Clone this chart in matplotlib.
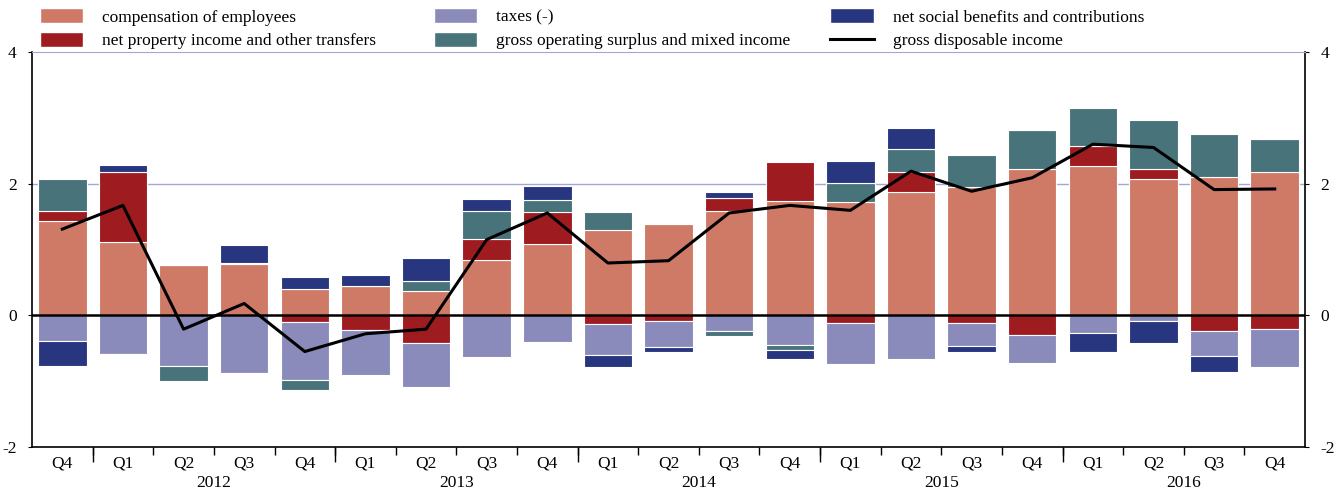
import matplotlib.pyplot as plt
import numpy as np
from matplotlib.patches import Patch
from matplotlib.lines import Line2D

plt.rcParams['font.family'] = ['Liberation Serif', 'DejaVu Serif']
plt.rcParams['font.size'] = 12.5

# quarters 2011Q4 .. 2016Q4
quarters = ['Q4', 'Q1', 'Q2', 'Q3', 'Q4', 'Q1', 'Q2', 'Q3', 'Q4', 'Q1', 'Q2',
            'Q3', 'Q4', 'Q1', 'Q2', 'Q3', 'Q4', 'Q1', 'Q2', 'Q3', 'Q4']
years = ['2012', '2013', '2014', '2015', '2016']

comp = [1.44, 1.12, 0.765, 0.78, 0.40, 0.44, 0.37, 0.835, 1.085, 1.30, 1.38,
        1.585, 1.74, 1.72, 1.875, 1.95, 2.23, 2.265, 2.075, 2.095, 2.17]
prop = [0.14, 1.06, 0.0, 0.02, -0.105, -0.22, -0.42, 0.325, 0.485, -0.13, -0.085,
        0.205, 0.59, -0.11, 0.295, -0.11, -0.30, 0.30, 0.155, -0.24, -0.205]
taxes = [-0.395, -0.59, -0.77, -0.875, -0.875, -0.685, -0.665, -0.64, -0.41, -0.47, -0.395,
         -0.24, -0.45, -0.63, -0.66, -0.355, -0.42, -0.27, -0.09, -0.38, -0.575]
surplus = [0.49, -0.02, -0.22, -0.02, -0.15, 0.0, 0.15, 0.425, 0.18, 0.275, 0.02,
           -0.07, -0.07, 0.285, 0.36, 0.48, 0.585, 0.58, 0.74, 0.665, 0.51]
social = [-0.37, 0.10, 0.0, 0.27, 0.18, 0.18, 0.35, 0.185, 0.21, -0.18, -0.08,
          0.085, -0.14, 0.335, 0.32, -0.085, 0.0, -0.28, -0.335, -0.235, 0.0]
gdi = [1.31, 1.67, -0.21, 0.18, -0.55, -0.28, -0.21, 1.15, 1.555, 0.795, 0.83,
       1.555, 1.67, 1.595, 2.19, 1.885, 2.09, 2.60, 2.55, 1.91, 1.92]

series = [
    ('compensation of employees', comp, '#cf7a66'),
    ('net property income and other transfers', prop, '#9e1b20'),
    ('taxes (-)', taxes, '#8a8bbb'),
    ('gross operating surplus and mixed income', surplus, '#48737b'),
    ('net social benefits and contributions', social, '#283680'),
]

fig = plt.figure(figsize=(13.4, 4.93), dpi=100)
ax = fig.add_axes([0.0239, 0.0933, 0.9500, 0.8012])

x = np.arange(len(quarters))
pos_bottom = np.zeros(len(x))
neg_bottom = np.zeros(len(x))
for name, vals, col in series:
    v = np.array(vals)
    bottom = np.where(v >= 0, pos_bottom, neg_bottom)
    ax.bar(x, v, 0.8, bottom=bottom, color=col, edgecolor='white', linewidth=0.8, zorder=2)
    pos_bottom += np.where(v > 0, v, 0)
    neg_bottom += np.where(v < 0, v, 0)

ax.plot(x, gdi, color='black', lw=2.2, zorder=4)

ax.axhline(0, color='black', lw=1.8, zorder=3)
ax.axhline(2, color='#a4a6d6', lw=1.0, zorder=1)

ax.set_xlim(-0.5, len(x) - 0.5)
ax.set_ylim(-2, 4)
ax.set_yticks([-2, 0, 2, 4])
ax.set_yticklabels(['-2', '0', '2', '4'])
ax.tick_params(axis='y', length=3, direction='out', right=True, labelright=True, pad=8)

ax.spines['top'].set_color('#a4a6d6')
for s in ['left', 'right', 'bottom']:
    ax.spines[s].set_linewidth(1.2)

# quarter labels and tick marks between categories
ax.set_xticks(x, quarters)
ax.set_xticks(x[:-1] + 0.5, minor=True)
ax.tick_params(axis='x', which='major', length=0, pad=6)
ax.tick_params(axis='x', which='minor', length=6, width=1.0)

# longer ticks at year boundaries
sec = ax.secondary_xaxis('bottom')
sec.set_xticks([0.5, 4.5, 8.5, 12.5, 16.5], [''] * 5)
sec.tick_params(length=11, width=1.0)
sec.spines['bottom'].set_visible(False)

# year labels
sec2 = ax.secondary_xaxis('bottom')
sec2.set_xticks([2.5, 6.5, 10.5, 14.5, 18.5], years)
sec2.tick_params(length=0, pad=20)
sec2.spines['bottom'].set_visible(False)

handles = [Patch(facecolor=c, edgecolor='white') for _, _, c in series]
handles.append(Line2D([], [], color='black', lw=2.2))
labels = [n for n, _, _ in series] + ['gross disposable income']

col_x = [0.027, 0.321, 0.617]
for i in range(3):
    fig.legend(handles[2 * i:2 * i + 2], labels[2 * i:2 * i + 2], loc='upper left',
               bbox_to_anchor=(col_x[i], 0.99), frameon=False, handlelength=2.5,
               handleheight=0.95, handletextpad=1.1, labelspacing=0.35,
               borderpad=0.2, borderaxespad=0)

fig.savefig('out.png', dpi=100)
